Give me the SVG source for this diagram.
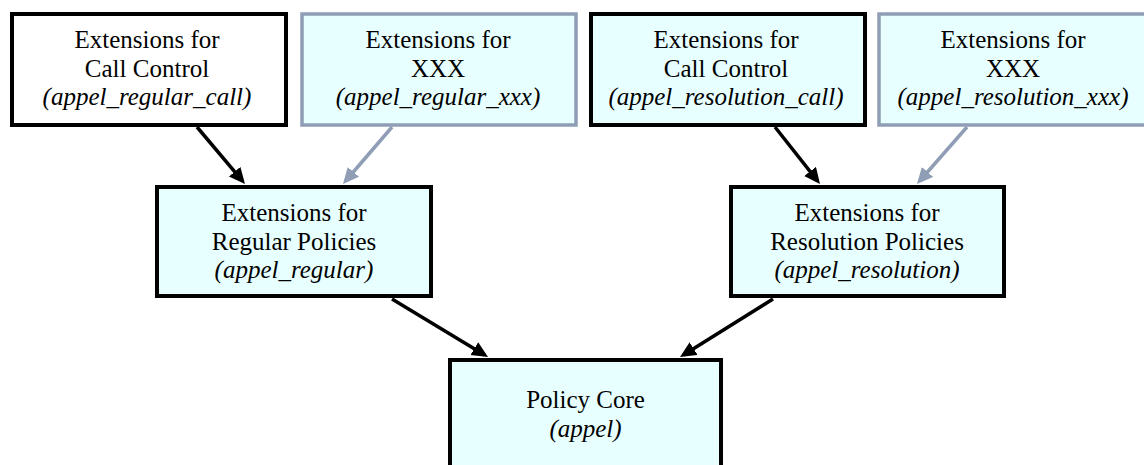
<svg xmlns="http://www.w3.org/2000/svg" width="1144" height="465" viewBox="0 0 1144 465">
<style>
  .box { fill: #e8ffff; stroke: #000; stroke-width: 4; }
  .white { fill: #fff; }
  .grey { stroke: #8f9db5; stroke-width: 3.5; }
  text { font-family: "Liberation Serif", "Times New Roman", serif; font-size: 25px; fill: #000; text-anchor: middle; }
  .it { font-style: italic; }
  .edge { fill: none; stroke: #000; stroke-width: 3.5; }
  .edge.g { stroke: #8f9db5; }
</style>
<defs>
  <marker id="ah" markerUnits="userSpaceOnUse" markerWidth="18" markerHeight="16" refX="12" refY="7.5" orient="auto">
    <path d="M0,0 L16,7.5 L0,15 Z" fill="#000"/>
  </marker>
  <marker id="ahg" markerUnits="userSpaceOnUse" markerWidth="18" markerHeight="16" refX="12" refY="7.5" orient="auto">
    <path d="M0,0 L16,7.5 L0,15 Z" fill="#8f9db5"/>
  </marker>
</defs>
<rect width="1144" height="465" fill="#fff"/>
<g id="connectors">
  <line class="edge" x1="197" y1="127" x2="242.4" y2="180.9" marker-end="url(#ah)"/>
  <line class="edge g" x1="392" y1="127" x2="345.6" y2="181" marker-end="url(#ahg)"/>
  <line class="edge" x1="775" y1="127" x2="817.5" y2="180.9" marker-end="url(#ah)"/>
  <line class="edge g" x1="967" y1="127" x2="919.6" y2="181" marker-end="url(#ahg)"/>
  <line class="edge" x1="392" y1="299" x2="484.6" y2="354.9" marker-end="url(#ah)"/>
  <line class="edge" x1="773" y1="299" x2="683.4" y2="354.9" marker-end="url(#ah)"/>
</g>
<g id="regular_call">
  <rect class="box white" x="12" y="14" width="274" height="111"/>
  <text x="147" y="48">Extensions for</text>
  <text x="147" y="76.5">Call Control</text>
  <text class="it" x="147" y="105">(appel_regular_call)</text>
</g>
<g id="regular_xxx">
  <rect class="box grey" x="302" y="14" width="274" height="111"/>
  <text x="438" y="48">Extensions for</text>
  <text x="438" y="76.5">XXX</text>
  <text class="it" x="438" y="105">(appel_regular_xxx)</text>
</g>
<g id="resolution_call">
  <rect class="box" x="591" y="14" width="274" height="111"/>
  <text x="726" y="48">Extensions for</text>
  <text x="726" y="76.5">Call Control</text>
  <text class="it" x="726" y="105">(appel_resolution_call)</text>
</g>
<g id="resolution_xxx">
  <rect class="box grey" x="879" y="14" width="268" height="111"/>
  <text x="1013" y="48">Extensions for</text>
  <text x="1013" y="76.5">XXX</text>
  <text class="it" x="1013" y="105">(appel_resolution_xxx)</text>
</g>
<g id="regular">
  <rect class="box" x="157" y="187" width="274" height="109"/>
  <text x="294" y="221">Extensions for</text>
  <text x="294" y="249.5">Regular Policies</text>
  <text class="it" x="294" y="278">(appel_regular)</text>
</g>
<g id="resolution">
  <rect class="box" x="731" y="187" width="273" height="109"/>
  <text x="867" y="221">Extensions for</text>
  <text x="867" y="249.5">Resolution Policies</text>
  <text class="it" x="867" y="278">(appel_resolution)</text>
</g>
<g id="core">
  <rect class="box" x="450" y="360" width="271" height="112"/>
  <text x="585.5" y="408">Policy Core</text>
  <text class="it" x="585.5" y="437">(appel)</text>
</g>
</svg>
